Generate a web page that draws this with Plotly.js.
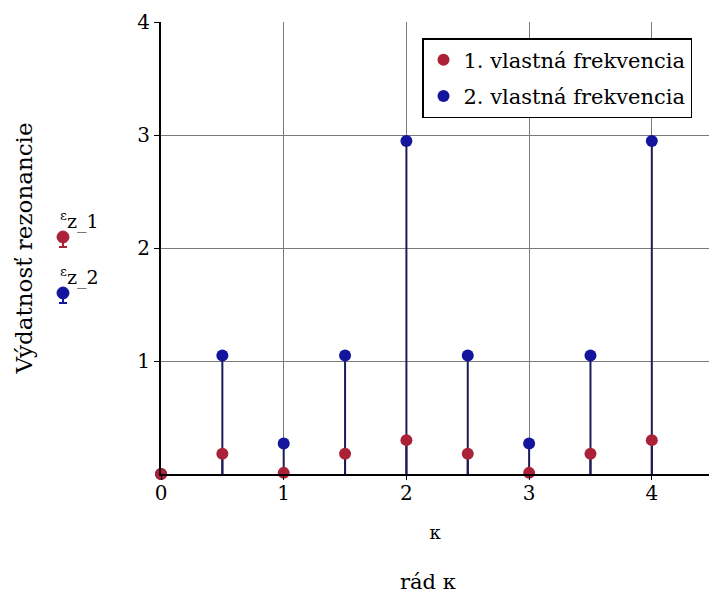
<!DOCTYPE html>
<html>
<head>
<meta charset="utf-8">
<script src="https://cdn.plot.ly/plotly-3.0.1.min.js"></script>
<style>html,body{margin:0;padding:0;background:#fff;}#chart{width:709px;height:593px;}</style>
</head>
<body>
<div id="chart"></div>
<script>
// κ (rád) values
const kappa = [0, 0.5, 1, 1.5, 2, 2.5, 3, 3.5, 4];
// 1. vlastná frekvencia (ε z_1)
const ez1 = [0, 0.18, 0.01, 0.18, 0.30, 0.18, 0.01, 0.18, 0.30];
// 2. vlastná frekvencia (ε z_2)
const ez2 = [0, 1.05, 0.27, 1.05, 2.95, 1.05, 0.27, 1.05, 2.95];
const xTicks = [0, 1, 2, 3, 4];
const yTicks = [1, 2, 3, 4];
const seriesNames = ['1. vlastná frekvencia', '2. vlastná frekvencia'];

const RED = '#ab2238';
const BLUE = '#14149c';
const STEM = '#1c1c58';
const FONT = 'DejaVu Serif, Liberation Serif, serif';

function stemTrace(y, name, color, order, group) {
  return {
    x: kappa, y: y, name: name, type: 'scatter', mode: 'markers',
    legendrank: order, legendgroup: group,
    marker: {color: color, size: 12},
    error_y: {type: 'data', symmetric: false, array: y.map(() => 0), arrayminus: y,
              width: 0, thickness: 2, color: STEM},
    cliponaxis: false
  };
}

const traces = [
  stemTrace(ez2, seriesNames[1], BLUE, 2, 'g2'),
  stemTrace(ez1, seriesNames[0], RED, 1, 'g1')
];

const px = (p) => (p - 161) / 548;      // pixel -> paper x
const py = (p) => (474 - p) / 452;      // pixel -> paper y

function iconShapes(cx, cy, color) {
  return [
    {type: 'line', xref: 'paper', yref: 'paper', xsizemode: 'pixel', ysizemode: 'pixel',
     xanchor: px(cx), yanchor: py(cy), x0: 0, x1: 0, y0: 0, y1: -10, line: {color: color, width: 2}},
    {type: 'line', xref: 'paper', yref: 'paper', xsizemode: 'pixel', ysizemode: 'pixel',
     xanchor: px(cx), yanchor: py(cy), x0: -4, x1: 4, y0: -10, y1: -10, line: {color: color, width: 2}},
    {type: 'circle', xref: 'paper', yref: 'paper', xsizemode: 'pixel', ysizemode: 'pixel',
     xanchor: px(cx), yanchor: py(cy), x0: -6, x1: 6, y0: -6, y1: 6,
     fillcolor: color, line: {color: color, width: 1}}
  ];
}

const layout = {
  width: 709, height: 593,
  margin: {l: 161, r: 0, t: 22, b: 119},
  paper_bgcolor: '#fff', plot_bgcolor: '#fff',
  font: {family: FONT, color: '#000', size: 20},
  showlegend: true,
  legend: {
    x: px(422), y: py(38), xanchor: 'left', yanchor: 'top',
    bgcolor: '#fff', bordercolor: '#000', borderwidth: 1.5,
    font: {family: FONT, size: 21, color: '#000'},
    traceorder: 'grouped', tracegroupgap: 6, itemwidth: 30
  },
  xaxis: {
    range: [0, 4.466], tickvals: xTicks, ticktext: xTicks.map(String),
    showgrid: true, gridcolor: '#7a7a7a', gridwidth: 1,
    showline: true, linecolor: '#000', linewidth: 2,
    zeroline: false, ticks: 'outside', ticklen: 4, tickcolor: '#000',
    ticklabelstandoff: -4,
    tickfont: {family: FONT, size: 20},
    title: {text: 'κ', font: {family: FONT, size: 18}, standoff: 22}
  },
  yaxis: {
    range: [0, 4.003], tickvals: yTicks, ticktext: yTicks.map(String),
    showgrid: true, gridcolor: '#7a7a7a', gridwidth: 1,
    showline: true, linecolor: '#000', linewidth: 2,
    zeroline: false, ticks: 'outside', ticklen: 5, tickcolor: '#000',
    tickfont: {family: FONT, size: 20},
    title: {text: 'Výdatnosť rezonancie', font: {family: FONT, size: 23}, standoff: 98}
  },
  annotations: [
    {text: 'rád κ', xref: 'paper', yref: 'paper', x: px(428), y: py(582),
     xanchor: 'center', yanchor: 'middle', showarrow: false, font: {family: FONT, size: 21}},
    {text: '<sup>ε</sup>z_1', xref: 'paper', yref: 'paper', x: px(58), y: py(220),
     xanchor: 'left', yanchor: 'middle', showarrow: false, font: {family: FONT, size: 19}},
    {text: '<sup>ε</sup>z_2', xref: 'paper', yref: 'paper', x: px(58), y: py(276),
     xanchor: 'left', yanchor: 'middle', showarrow: false, font: {family: FONT, size: 19}}
  ],
  shapes: [].concat(iconShapes(63, 237, RED), iconShapes(63, 293, BLUE))
};

Plotly.newPlot('chart', traces, layout, {displayModeBar: false, staticPlot: true});
</script>
</body>
</html>
